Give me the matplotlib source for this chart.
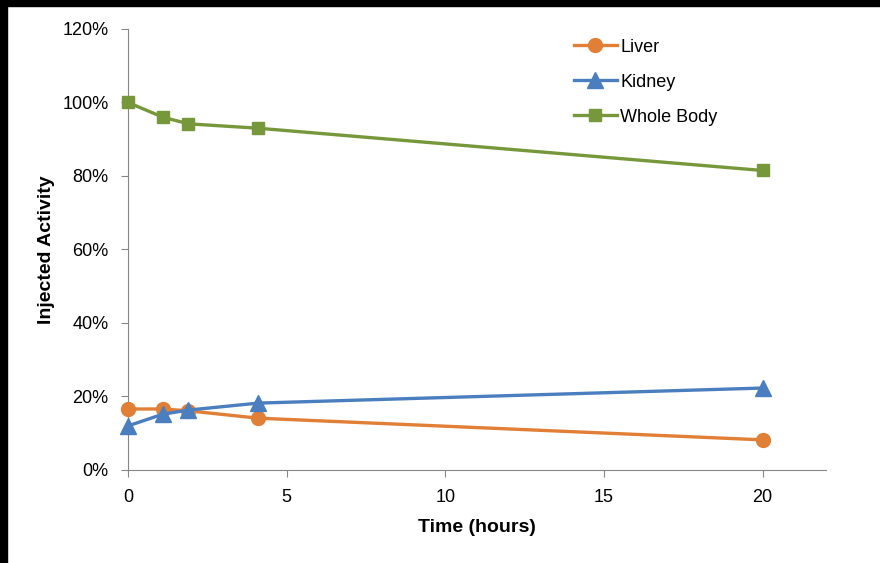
import matplotlib.pyplot as plt
from matplotlib.patches import Rectangle
from matplotlib.ticker import FuncFormatter

time_liver = [0, 1.1, 1.9, 4.1, 20.0]
liver = [16.6, 16.6, 16.1, 14.1, 8.2]

time_kidney = [0, 1.1, 1.9, 4.1, 20.0]
kidney = [12.0, 15.2, 16.3, 18.2, 22.3]

time_body = [0, 1.1, 1.9, 4.1, 20.0]
whole_body = [100.0, 96.0, 94.2, 93.0, 81.5]

plt.rcParams["font.family"] = ["Liberation Sans", "DejaVu Sans"]

fig = plt.figure(figsize=(8.8, 5.63), dpi=100)
ax = fig.add_axes([0.1455, 0.1652, 0.7931, 0.7833])

ax.plot(time_liver, liver, color="#E07F35", lw=2.4, marker="o", ms=10,
        label="Liver", clip_on=False, zorder=3)
ax.plot(time_kidney, kidney, color="#4A7EBF", lw=2.4, marker="^", ms=11,
        label="Kidney", clip_on=False, zorder=4)
ax.plot(time_body, whole_body, color="#77983A", lw=2.4, marker="s", ms=9,
        label="Whole Body", clip_on=False, zorder=3)

ax.set_xlim(0, 22)
ax.set_ylim(0, 120)
ax.set_xticks([0, 5, 10, 15, 20])
ax.set_yticks(range(0, 121, 20))
ax.yaxis.set_major_formatter(FuncFormatter(lambda v, p: f"{int(v)}%"))

for side in ("top", "right"):
    ax.spines[side].set_visible(False)
for side in ("left", "bottom"):
    ax.spines[side].set_color("#868686")
ax.tick_params(colors="#868686", labelcolor="black", labelsize=13, length=5, direction="out")
ax.tick_params(axis="x", pad=9)
ax.tick_params(axis="y", pad=9)

ax.set_xlabel("Time (hours)", fontsize=14, fontweight="bold", labelpad=9)
ax.set_ylabel("Injected Activity", fontsize=14, fontweight="bold", labelpad=5)

ax.legend(loc="upper left", bbox_to_anchor=(0.615, 1.015), frameon=False, fontsize=13,
          handlelength=2.4, labelspacing=1.0, handletextpad=0.2)

# black frame strips from the original screenshot
fig.patches.append(Rectangle((0, 1 - 6 / 563), 1, 6 / 563, transform=fig.transFigure,
                             color="black", zorder=10))
fig.patches.append(Rectangle((0, 0), 7 / 880, 1, transform=fig.transFigure,
                             color="black", zorder=10))

fig.savefig("out.png")
